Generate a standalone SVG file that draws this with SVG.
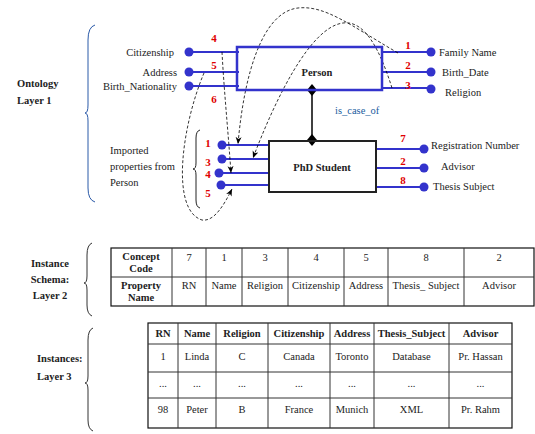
<svg xmlns="http://www.w3.org/2000/svg" width="535" height="434" viewBox="0 0 535 434">
<style>
text{font-family:"Liberation Serif","Times New Roman",serif;font-size:10.5px;fill:#222}
.b{font-weight:bold}
.num{font-weight:bold;fill:#e00000;font-size:11px}
.m{text-anchor:middle}
.e{text-anchor:end}
.rel{fill:#1a5c9e}
.prop{stroke:#3333cc;stroke-width:2;fill:none}
.dot{fill:#3333cc}
.dash{stroke:#000;stroke-width:0.8;fill:none;stroke-dasharray:3,2}
.brace{fill:none;stroke-width:1}
.tbl{stroke:#111;stroke-width:1.2;fill:none}
.tl{stroke:#333;stroke-width:1}
</style>
<defs>
<marker id="arr" markerWidth="8" markerHeight="8" refX="7" refY="3" orient="auto" markerUnits="userSpaceOnUse">
<path d="M0,0 L7,3 L0,6 L2,3 z" fill="#000"/>
</marker>
</defs>

<!-- layer labels -->
<g id="label-layer1">
<text class="b" x="17" y="87">Ontology</text>
<text class="b" x="17" y="104">Layer 1</text>
<path class="brace" stroke="#2b5aa8" d="M95,25 Q88,27 88,40 L88,105 Q88,113 85,113 Q88,113 88,121 L88,188 Q88,200 95,202"/>
</g>
<g id="label-layer2">
<text class="b m" x="50" y="267">Instance</text>
<text class="b m" x="50" y="283">Schema:</text>
<text class="b m" x="50" y="299">Layer 2</text>
<path class="brace" stroke="#333" d="M92,243 Q87,245 87,255 L87,276 Q87,283 84,283 Q87,283 87,290 L87,305 Q87,314 92,316"/>
</g>
<g id="label-layer3">
<text class="b" x="37" y="362">Instances:</text>
<text class="b" x="37" y="380">Layer 3</text>
<path class="brace" stroke="#333" d="M93,328 Q88,330 88,340 L88,376 Q88,383 85,383 Q88,383 88,390 L88,420 Q88,429 93,431"/>
</g>

<!-- connectors -->
<g id="connectors">
<line class="prop" x1="189" y1="52" x2="239" y2="52"/>
<line class="prop" x1="189" y1="72" x2="239" y2="72"/>
<line class="prop" x1="189" y1="86" x2="239" y2="86"/>
<line class="prop" x1="382" y1="52" x2="431" y2="52"/>
<line class="prop" x1="382" y1="72" x2="431" y2="72"/>
<line class="prop" x1="382" y1="88" x2="431" y2="88"/>
<line class="prop" x1="222" y1="145" x2="269" y2="145"/>
<line class="prop" x1="222" y1="159" x2="269" y2="159"/>
<line class="prop" x1="219" y1="173" x2="269" y2="173"/>
<line class="prop" x1="221" y1="185" x2="269" y2="185"/>
<line class="prop" x1="376" y1="149" x2="424" y2="149"/>
<line class="prop" x1="376" y1="168" x2="424" y2="168"/>
<line class="prop" x1="376" y1="187" x2="424" y2="187"/>
<circle class="dot" cx="189" cy="52" r="4.5"/>
<circle class="dot" cx="189" cy="72" r="4.5"/>
<circle class="dot" cx="189" cy="86" r="4.5"/>
<circle class="dot" cx="431" cy="52" r="4.5"/>
<circle class="dot" cx="431" cy="72" r="4.5"/>
<circle class="dot" cx="431" cy="89" r="4.5"/>
<circle class="dot" cx="222" cy="145" r="4.5"/>
<circle class="dot" cx="222" cy="159" r="4.5"/>
<circle class="dot" cx="219" cy="173" r="4.5"/>
<circle class="dot" cx="221" cy="185" r="4.5"/>
<circle class="dot" cx="424" cy="149" r="4.5"/>
<circle class="dot" cx="424" cy="168" r="4.5"/>
<circle class="dot" cx="424" cy="187" r="4.5"/>
<line x1="312" y1="90" x2="312" y2="140" stroke="#000" stroke-width="1.5"/>
<path d="M312,84 L317,90 L312,96 L307,90 z" fill="#000"/>
<path d="M312,134 L317,140 L312,146 L307,140 z" fill="#000"/>
<text class="rel" x="335" y="114">is_case_of</text>
<path class="dash" marker-end="url(#arr)" d="M222,52 C224,90 228,130 231,173"/>
<path class="dash" marker-end="url(#arr)" d="M204,73 C182,125 170,210 202,220 C214,222 224,205 232,189"/>
<path class="dash" marker-end="url(#arr)" d="M398,53 C350,25 325,5 298,8 C262,12 244,75 238,144"/>
<path class="dash" marker-end="url(#arr)" d="M392,88 C380,50 365,20 343,23 C310,27 275,100 253,158"/>
<path class="brace" stroke="#222" d="M200,130 Q196,131 196,138 L196,163 Q196,169 193,169 Q196,169 196,175 L196,200 Q196,207 200,208"/>
</g>

<g id="person-props">
<text class="e" x="174" y="56">Citizenship</text>
<text class="e" x="177" y="76">Address</text>
<text class="e" x="177" y="90">Birth_Nationality</text>
<text class="num m" x="214" y="42">4</text>
<text class="num m" x="214" y="69">5</text>
<text class="num m" x="214" y="103">6</text>
<text x="439" y="56">Family Name</text>
<text x="442" y="76">Birth_Date</text>
<text x="445" y="96">Religion</text>
<text class="num m" x="408" y="49">1</text>
<text class="num m" x="408" y="69">2</text>
<text class="num m" x="408" y="89">3</text>
</g>
<g id="phd-props">
<text x="110" y="154">Imported</text>
<text x="110" y="170">properties from</text>
<text x="110" y="186">Person</text>
<text class="num m" x="208" y="147">1</text>
<text class="num m" x="208" y="166">3</text>
<text class="num m" x="208" y="178">4</text>
<text class="num m" x="208" y="197">5</text>
<text x="431" y="149">Registration Number</text>
<text x="441" y="170">Advisor</text>
<text x="433" y="190">Thesis Subject</text>
<text class="num m" x="403" y="142">7</text>
<text class="num m" x="403" y="165">2</text>
<text class="num m" x="403" y="184">8</text>
</g>

<g id="node-person">
<rect x="237" y="47" width="145" height="43" fill="none" stroke="#3333cc" stroke-width="2.5"/>
<text class="b m" x="317" y="76">Person</text>
</g>
<g id="node-phd">
<rect x="269" y="141" width="107" height="51" fill="none" stroke="#222" stroke-width="2"/>
<text class="b m" x="322" y="171">PhD Student</text>
</g>

<g id="table-schema">
<rect class="tbl" x="111" y="248" width="423" height="58"/>
<line class="tl" x1="111" y1="277" x2="534" y2="277"/>
<line class="tl" x1="172" y1="248" x2="172" y2="306"/>
<line class="tl" x1="206" y1="248" x2="206" y2="306"/>
<line class="tl" x1="242" y1="248" x2="242" y2="306"/>
<line class="tl" x1="288" y1="248" x2="288" y2="306"/>
<line class="tl" x1="344" y1="248" x2="344" y2="306"/>
<line class="tl" x1="388" y1="248" x2="388" y2="306"/>
<line class="tl" x1="464" y1="248" x2="464" y2="306"/>
<text class="b m" x="141" y="260">Concept</text>
<text class="b m" x="141" y="272">Code</text>
<text class="b m" x="141" y="289">Property</text>
<text class="b m" x="141" y="301">Name</text>
<text class="m" x="189" y="261">7</text>
<text class="m" x="224" y="261">1</text>
<text class="m" x="265" y="261">3</text>
<text class="m" x="316" y="261">4</text>
<text class="m" x="366" y="261">5</text>
<text class="m" x="426" y="261">8</text>
<text class="m" x="499" y="261">2</text>
<text class="m" x="189" y="289">RN</text>
<text class="m" x="224" y="289">Name</text>
<text class="m" x="265" y="289">Religion</text>
<text class="m" x="316" y="289">Citizenship</text>
<text class="m" x="366" y="289">Address</text>
<text class="m" x="426" y="289">Thesis_ Subject</text>
<text class="m" x="499" y="289">Advisor</text>
</g>

<g id="table-instances">
<rect class="tbl" x="148" y="323" width="364" height="105"/>
<line class="tl" x1="148" y1="344" x2="512" y2="344"/>
<line class="tl" x1="148" y1="372" x2="512" y2="372"/>
<line class="tl" x1="148" y1="398" x2="512" y2="398"/>
<line class="tl" x1="178" y1="323" x2="178" y2="428"/>
<line class="tl" x1="216" y1="323" x2="216" y2="428"/>
<line class="tl" x1="268" y1="323" x2="268" y2="428"/>
<line class="tl" x1="330" y1="323" x2="330" y2="428"/>
<line class="tl" x1="374" y1="323" x2="374" y2="428"/>
<line class="tl" x1="449" y1="323" x2="449" y2="428"/>
<text class="b m" x="163" y="337">RN</text>
<text class="b m" x="197" y="337">Name</text>
<text class="b m" x="242" y="337">Religion</text>
<text class="b m" x="299" y="337">Citizenship</text>
<text class="b m" x="352" y="337">Address</text>
<text class="b m" x="411.5" y="337">Thesis_Subject</text>
<text class="b m" x="480.5" y="337">Advisor</text>
<text class="m" x="163" y="360">1</text>
<text class="m" x="197" y="360">Linda</text>
<text class="m" x="242" y="360">C</text>
<text class="m" x="299" y="360">Canada</text>
<text class="m" x="352" y="360">Toronto</text>
<text class="m" x="411.5" y="360">Database</text>
<text class="m" x="480.5" y="360">Pr. Hassan</text>
<text class="m" x="163" y="387">...</text>
<text class="m" x="197" y="387">...</text>
<text class="m" x="242" y="387">...</text>
<text class="m" x="299" y="387">...</text>
<text class="m" x="352" y="387">...</text>
<text class="m" x="411.5" y="387">...</text>
<text class="m" x="480.5" y="387">...</text>
<text class="m" x="163" y="413">98</text>
<text class="m" x="197" y="413">Peter</text>
<text class="m" x="242" y="413">B</text>
<text class="m" x="299" y="413">France</text>
<text class="m" x="352" y="413">Munich</text>
<text class="m" x="411.5" y="413">XML</text>
<text class="m" x="480.5" y="413">Pr. Rahm</text>
</g>
</svg>
